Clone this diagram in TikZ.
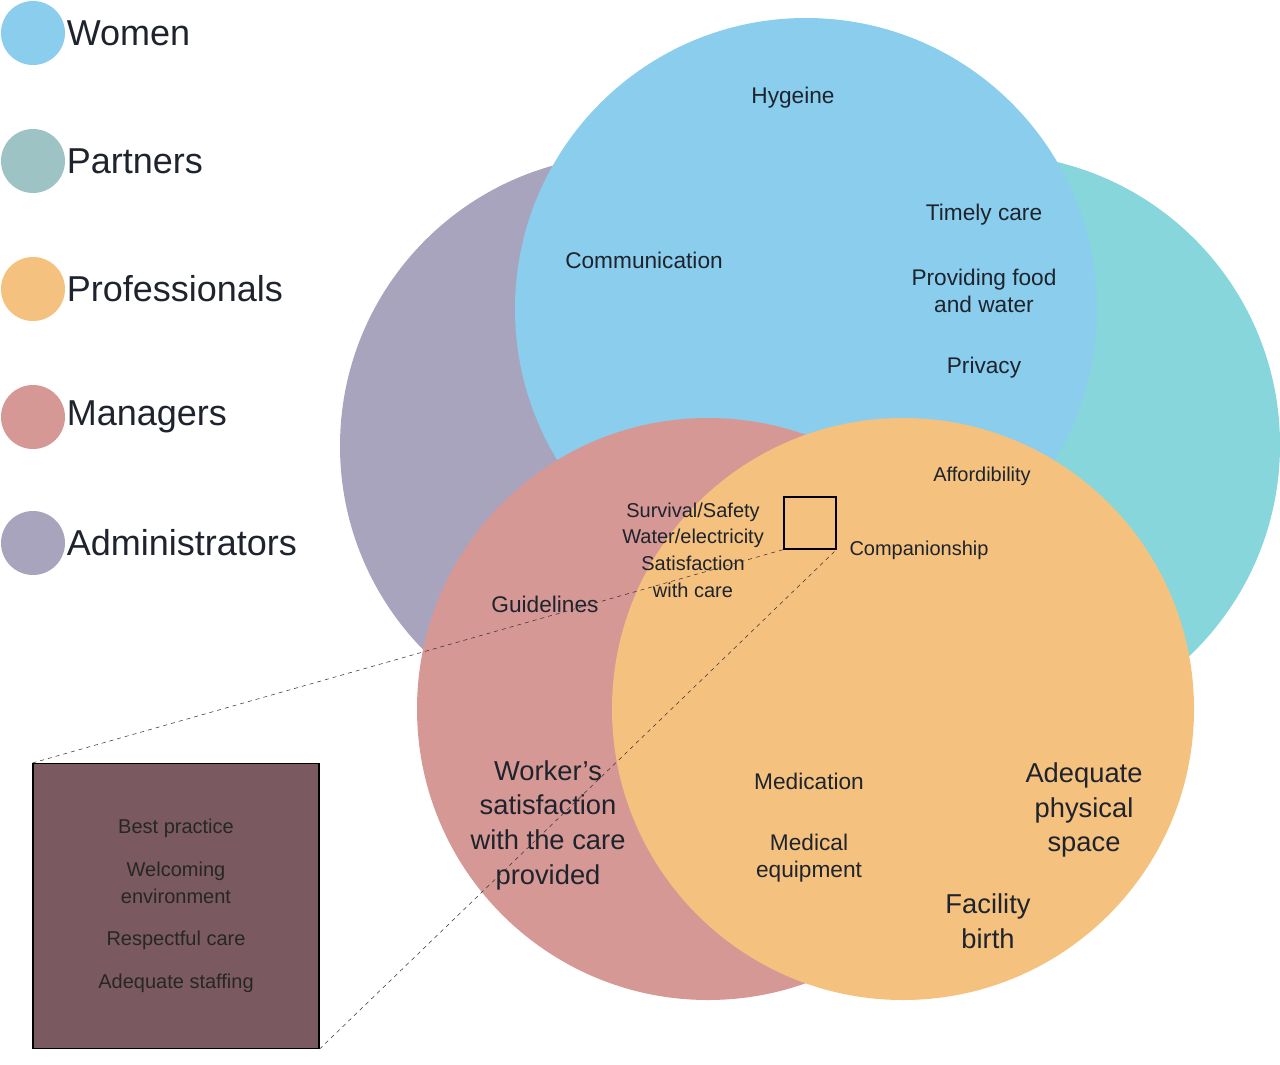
\documentclass[tikz,border=0pt]{standalone}
\usepackage{fontspec}
\setmainfont{Liberation Sans}
\definecolor{cwomen}{RGB}{138,205,236}
\definecolor{cpartners}{RGB}{135,214,220}
\definecolor{cadmin}{RGB}{168,164,190}
\definecolor{cmanagers}{RGB}{213,152,148}
\definecolor{cprof}{RGB}{244,194,126}
\definecolor{cinset}{RGB}{122,90,96}
\definecolor{ctext}{RGB}{30,35,45}
\begin{document}
\begin{tikzpicture}[x=0.75pt, y=-0.75pt,
    set/.style={circle, minimum size=436.5pt, inner sep=0pt},
    legdot/.style={circle, minimum size=48pt, inner sep=0pt},
    legtext/.style={anchor=west, inner sep=1pt, font=\fontsize{27}{30}\selectfont, text=ctext},
    lbl/.style={align=center, text=ctext, font=\fontsize{17}{20}\selectfont},
    big/.style={align=center, text=ctext, font=\fontsize{20.5}{26}\selectfont},
    small/.style={align=center, text=ctext, font=\fontsize{15}{20}\selectfont}]
  \useasboundingbox (0,0) rectangle (1280,1064);

  % Sets
  \begin{scope}[transparency group, blend mode=multiply]
    \node[set, fill=cadmin] (admin) at (631,446) {};
    \node[set, fill=cpartners] (partners) at (989,445) {};
    \node[set, fill=cwomen] (women) at (806,309) {};
    \node[set, fill=cmanagers] (managers) at (708,709) {};
    \node[set, fill=cprof] (prof) at (903,709) {};
  \end{scope}

  % Legend
  \node[legdot, fill=cwomen] (lw) at (33,33) {};
  \node[legtext] at (lw.east) {Women};
  \node[legdot, fill=cpartners!60!gray!80!white] (lp) at (33,161) {};
  \node[legtext] at (lp.east) {Partners};
  \node[legdot, fill=cprof] (lpr) at (33,289) {};
  \node[legtext] at (lpr.east) {Professionals};
  \node[legdot, fill=cmanagers] (lm) at (33,417) {};
  \node[legtext] at (lm.east) {Managers};
  \node[legdot, fill=cadmin] (la) at (33,543) {};
  \node[legtext] at (la.east) {Administrators};

  % Labels
  \node[lbl] (hyg) at (793,98) {Hygeine};
  \node[lbl] (comm) at (644,260) {Communication};
  \node[lbl] (timely) at (984,215) {Timely care};
  \node[lbl] (food) at (984,291) {Providing food\\and water};
  \node[lbl] (priv) at (984,368) {Privacy};
  \node[small] (afford) at (982,476) {Affordibility};
  \node[small] (comp) at (919,550) {Companionship};
  \node[small] (core) at (693,550) {Survival/Safety\\Water/electricity\\Satisfaction\\with care};
  \node[lbl] (guide) at (545,604) {Guidelines};
  \node[big] (worker) at (548,825) {Worker's\\satisfaction\\with the care\\provided};
  \node[lbl] (medic) at (809,781) {Medication};
  \node[lbl] (equip) at (809,858) {Medical\\equipment};
  \node[big] (space) at (1084,810) {Adequate\\physical\\space};
  \node[big] (birth) at (988,921) {Facility\\birth};

  % Zoom inset
  \node[draw=black, thick, minimum size=39pt, inner sep=0pt] (zoom) at (810,523) {};
  \node[draw=black, thick, fill=cinset, minimum width=214.5pt, minimum height=213.75pt, inner sep=0pt,
        align=center, font=\fontsize{15}{20}\selectfont, text=black!85] (inset) at (176,906)
        {Best practice\\[12pt]Welcoming\\environment\\[12pt]Respectful care\\[12pt]Adequate staffing};
  \draw[dashed, gray!40!black] (inset.north west) -- (zoom.south west);
  \draw[dashed, gray!40!black] (inset.south east) -- (zoom.south east);
\end{tikzpicture}
\end{document}
